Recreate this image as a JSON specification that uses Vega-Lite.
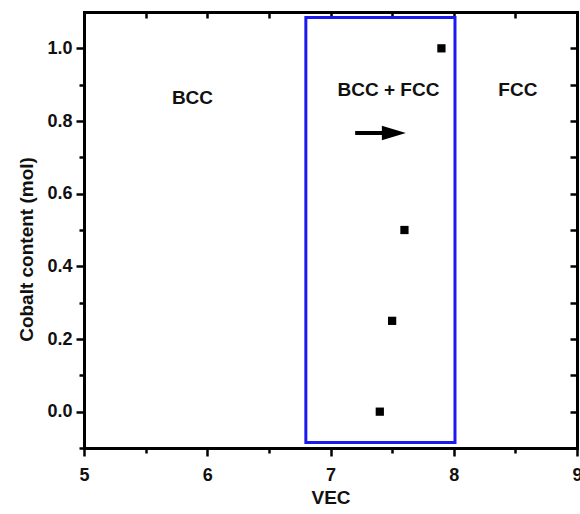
{
  "$schema": "https://vega.github.io/schema/vega-lite/v6.json",
  "autosize": {"type": "none"},
  "width": 493,
  "height": 436,
  "padding": {"left": 84, "top": 12, "right": 3, "bottom": 66},
  "background": "white",
  "datasets": {
    "points": [
      {"vec": 7.4, "co": 0.0},
      {"vec": 7.5, "co": 0.25},
      {"vec": 7.6, "co": 0.5},
      {"vec": 7.9, "co": 1.0}
    ],
    "region": [
      {"x1": 6.8, "x2": 8.01, "y1": -0.085, "y2": 1.085}
    ],
    "labels": [
      {"vec": 5.88, "co": 0.848, "text": "BCC"},
      {"vec": 7.47, "co": 0.868, "text": "BCC + FCC"},
      {"vec": 8.52, "co": 0.868, "text": "FCC"}
    ],
    "arrow": [
      {"x1": 7.2, "x2": 7.45, "y": 0.767, "hx": 7.514}
    ]
  },
  "layer": [
    {
      "data": {"name": "region"},
      "mark": {"type": "rect", "fill": "transparent", "stroke": "#1a1af0", "strokeWidth": 3},
      "encoding": {
        "x": {"field": "x1", "type": "quantitative",
          "scale": {"domain": [5, 9], "nice": false, "zero": false},
          "axis": {"orient": "bottom", "values": [5, 6, 7, 8, 9], "format": "d", "tickSize": 8,
            "labelBaseline": "alphabetic", "labelPadding": 24, "labelFlush": false,
            "title": "VEC", "titleBaseline": "alphabetic", "titleY": 55, "titleX": 246.5, "titleAlign": "center"}},
        "x2": {"field": "x2"},
        "y": {"field": "y1", "type": "quantitative",
          "scale": {"domain": [-0.1, 1.1], "nice": false, "zero": false},
          "axis": {"orient": "left", "values": [0, 0.2, 0.4, 0.6, 0.8, 1.0], "format": ".1f", "tickSize": 8,
            "labelPadding": 4, "labelBaseline": "middle",
            "title": "Cobalt content (mol)", "titleAngle": 270, "titleX": -52, "titleY": 237,
            "titleAlign": "center", "titleBaseline": "alphabetic"}},
        "y2": {"field": "y2"}
      }
    },
    {
      "data": {"name": "points"},
      "mark": {"type": "point", "shape": "square", "filled": true, "color": "black", "size": 68, "opacity": 1},
      "encoding": {
        "x": {"field": "vec", "type": "quantitative",
          "scale": {"domain": [5, 9], "nice": false, "zero": false},
          "axis": {"orient": "bottom", "values": [5.5, 6.5, 7.5, 8.5], "tickSize": 5, "labels": false, "domain": false, "title": null}},
        "y": {"field": "co", "type": "quantitative",
          "scale": {"domain": [-0.1, 1.1], "nice": false, "zero": false},
          "axis": {"orient": "left", "values": [-0.1, 0.1, 0.3, 0.5, 0.7, 0.9], "tickSize": 5, "labels": false, "domain": false, "title": null}}
      }
    },
    {
      "data": {"name": "labels"},
      "mark": {"type": "text", "font": "Liberation Sans", "fontWeight": "bold", "fontSize": 19, "align": "center", "baseline": "alphabetic", "color": "#111"},
      "encoding": {
        "x": {"field": "vec", "type": "quantitative",
          "scale": {"domain": [5, 9], "nice": false, "zero": false},
          "axis": {"orient": "top", "values": [5, 5.5, 6, 6.5, 7, 7.5, 8, 8.5, 9], "tickSize": -6, "labels": false, "title": null}},
        "y": {"field": "co", "type": "quantitative",
          "scale": {"domain": [-0.1, 1.1], "nice": false, "zero": false},
          "axis": {"orient": "right", "values": [-0.1, 0, 0.1, 0.2, 0.3, 0.4, 0.5, 0.6, 0.7, 0.8, 0.9, 1.0, 1.1], "tickSize": -7, "labels": false, "title": null}},
        "text": {"field": "text"}
      }
    },
    {
      "data": {"name": "arrow"},
      "mark": {"type": "rule", "color": "black", "strokeWidth": 4, "strokeCap": "butt"},
      "encoding": {
        "x": {"field": "x1", "type": "quantitative", "scale": {"domain": [5, 9], "nice": false, "zero": false}, "axis": null},
        "x2": {"field": "x2"},
        "y": {"field": "y", "type": "quantitative", "scale": {"domain": [-0.1, 1.1], "nice": false, "zero": false}, "axis": null}
      }
    },
    {
      "data": {"name": "arrow"},
      "mark": {"type": "point", "shape": "M-1,-0.6L1,0L-1,0.6Z", "filled": true, "color": "black", "size": 576, "opacity": 1},
      "encoding": {
        "x": {"field": "hx", "type": "quantitative", "scale": {"domain": [5, 9], "nice": false, "zero": false}, "axis": null},
        "y": {"field": "y", "type": "quantitative", "scale": {"domain": [-0.1, 1.1], "nice": false, "zero": false}, "axis": null}
      }
    }
  ],
  "resolve": {"axis": {"x": "independent", "y": "independent"}},
  "config": {
    "view": {"stroke": null},
    "axis": {
      "grid": false,
      "domainColor": "black",
      "domainWidth": 3,
      "domainCap": "square",
      "tickColor": "black",
      "tickWidth": 2.5,
      "labelFont": "Liberation Sans",
      "labelFontWeight": "bold",
      "labelFontSize": 18,
      "labelColor": "#111",
      "titleFont": "Liberation Sans",
      "titleFontWeight": "bold",
      "titleFontSize": 19,
      "titleColor": "#111"
    }
  }
}
